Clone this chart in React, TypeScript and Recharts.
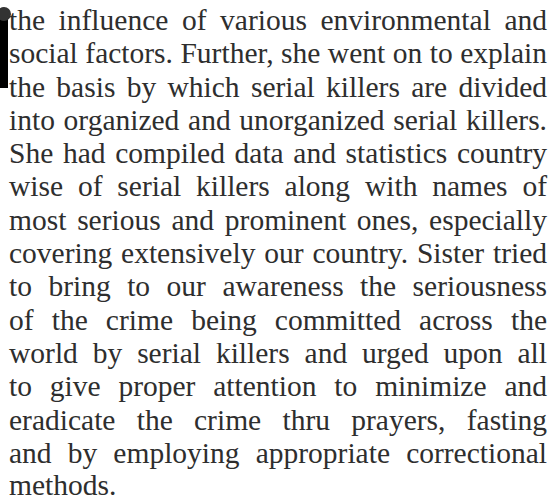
import React from 'react';
import { Surface, Rectangle, Dot } from 'recharts';

// paragraph lines as they break in the scan
const LINES: string[] = [
  'the influence of various environmental and',
  'social factors. Further, she went on to explain',
  'the basis by which serial killers are divided',
  'into organized and unorganized serial killers.',
  'She had compiled data and statistics country',
  'wise of serial killers along with names of',
  'most serious and prominent ones, especially',
  'covering extensively our country. Sister tried',
  'to bring to our awareness the seriousness',
  'of the crime being committed across the',
  'world by serial killers and urged upon all',
  'to give proper attention to minimize and',
  'eradicate the crime thru prayers, fasting',
  'and by employing appropriate correctional',
  'methods.',
];

const WIDTH = 554;
const HEIGHT = 500;
const LINE_H = 33.3;

export default function App() {
  return (
    <div
      style={{
        position: 'fixed',
        left: 0,
        top: 0,
        width: WIDTH,
        height: HEIGHT,
        background: '#fff',
        overflow: 'hidden',
      }}
    >
      {/* dark edge of the scanned page */}
      <Surface width={WIDTH} height={HEIGHT} style={{ position: 'absolute', left: 0, top: 0 }}>
        <Rectangle x={0} y={10} width={8} height={78} fill="#000" />
        <Dot cx={4} cy={14} r={7} fill="#333" />
      </Surface>
      <div
        style={{
          position: 'absolute',
          left: 9,
          top: 4,
          width: 538,
          fontFamily: '"Liberation Serif", "DejaVu Serif", serif',
          fontSize: 29.5,
          lineHeight: `${LINE_H}px`,
          color: '#2e2e2e',
        }}
      >
        {LINES.map((line, i) => {
          const last = i === LINES.length - 1;
          // the last line gets a tighter box so it stays inside the page
          return (
            <div
              key={i}
              style={{
                whiteSpace: 'nowrap',
                textAlign: 'justify',
                textAlignLast: last ? 'left' : 'justify',
                height: last ? 23 : LINE_H,
                lineHeight: last ? '23px' : `${LINE_H}px`,
                paddingTop: last ? 3.5 : 0,
              }}
            >
              {line}
            </div>
          );
        })}
      </div>
    </div>
  );
}
